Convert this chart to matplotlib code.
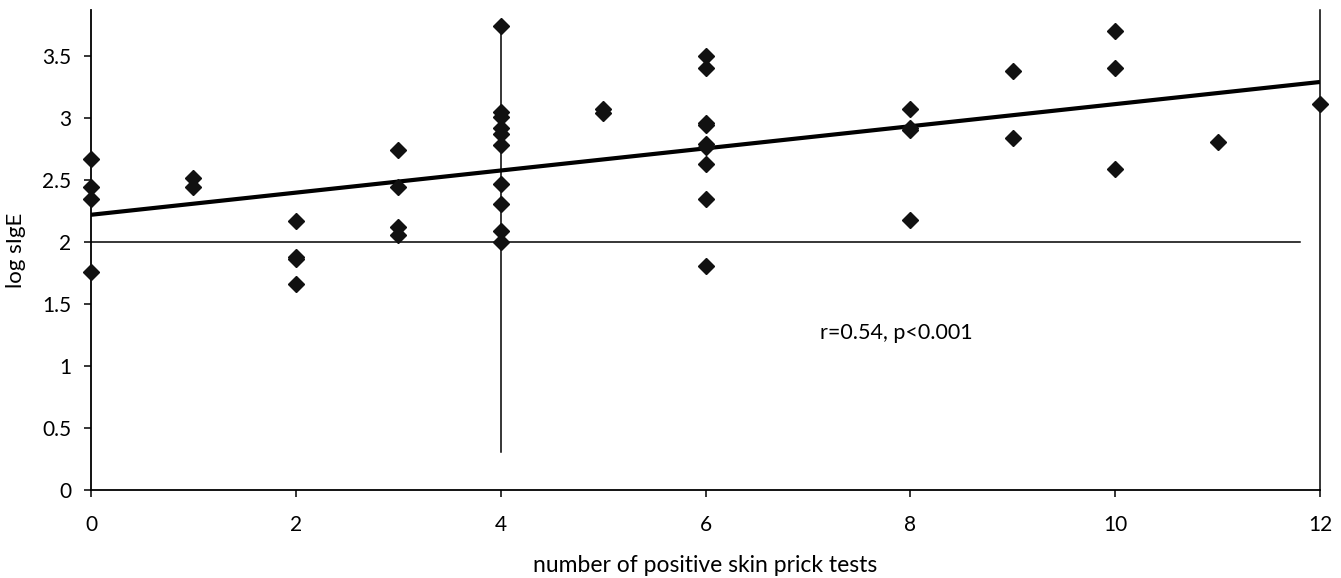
import matplotlib
matplotlib.use("Agg")
import matplotlib.pyplot as plt

plt.rcParams['font.family'] = ['Lato', 'DejaVu Sans']

# number of positive skin prick tests
x_vals = [0, 0, 0, 0,
          1, 1,
          2, 2, 2, 2,
          3, 3, 3, 3,
          4, 4, 4, 4, 4, 4, 4, 4, 4, 4,
          5, 5,
          6, 6, 6, 6, 6, 6, 6, 6, 6,
          8, 8, 8, 8,
          9, 9,
          10, 10, 10,
          11,
          12]
# log sIgE
y_vals = [2.67, 2.44, 2.35, 1.76,
          2.52, 2.44,
          2.17, 1.88, 1.86, 1.66,
          2.74, 2.44, 2.12, 2.06,
          3.74, 3.05, 3.01, 2.92, 2.87, 2.78, 2.47, 2.31, 2.09, 2.00,
          3.07, 3.04,
          3.50, 3.40, 2.96, 2.94, 2.79, 2.77, 2.63, 2.35, 1.81,
          3.07, 2.92, 2.90, 2.18,
          3.38, 2.84,
          3.70, 3.40, 2.59,
          2.81,
          3.11]

trend_x = [0, 12]
trend_y = [2.22, 3.29]
hline_x = [0, 11.8]
hline_y = [2.0, 2.0]
vline4_x = [4, 4]
vline4_y = [0.31, 3.74]
vline12_x = [12, 12]
vline12_y = [0, 3.87]

x_ticks = [0, 2, 4, 6, 8, 10, 12]
y_ticks = [0, 0.5, 1, 1.5, 2, 2.5, 3, 3.5]
y_ticklabels = ['0', '0.5', '1', '1.5', '2', '2.5', '3', '3.5']
annotation = "r=0.54, p<0.001"

fig = plt.figure(figsize=(13.41, 5.78), dpi=100)
ax = fig.add_axes([91/1341, (578-490.3)/578, (1320-91)/1341, (490.3-10)/578])

ax.plot(hline_x, hline_y, color='black', lw=1.1, zorder=2)
ax.plot(vline4_x, vline4_y, color='black', lw=1.1, zorder=2)
ax.plot(vline12_x, vline12_y, color='black', lw=1.1, zorder=2, clip_on=False)
ax.plot(trend_x, trend_y, color='black', lw=3.0, zorder=3, solid_capstyle='butt')
ax.plot(x_vals, y_vals, linestyle='none', marker='D', markersize=8.5,
        color='#111111', zorder=4, clip_on=False)

ax.text(7.12, 1.27, annotation, fontsize=15.5, va='center', ha='left')

ax.set_xlim(0, 12)
ax.set_ylim(0, 3.87)
ax.set_xticks(x_ticks)
ax.set_yticks(y_ticks)
ax.set_yticklabels(y_ticklabels)
ax.tick_params(axis='both', direction='out', length=5, width=1.1, labelsize=15, colors='black')
ax.tick_params(axis='x', pad=13)
ax.tick_params(axis='y', pad=9)
for s in ['top', 'right']:
    ax.spines[s].set_visible(False)
for s in ['left', 'bottom']:
    ax.spines[s].set_linewidth(1.3)

ax.set_xlabel("number of positive skin prick tests", fontsize=16.5, labelpad=14)
ax.set_ylabel("log sIgE", fontsize=16, labelpad=12)

fig.savefig("out.png", dpi=100)
